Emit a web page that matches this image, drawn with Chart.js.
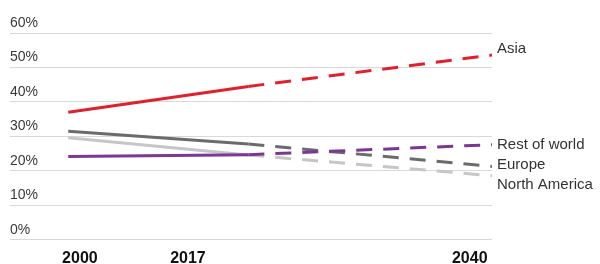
<!DOCTYPE html>
<html>
<head>
<meta charset="utf-8">
<script src="https://cdn.jsdelivr.net/npm/chart.js@4"></script>
<style>
  html, body { margin: 0; padding: 0; background: #fff; }
  #wrap { width: 600px; height: 264px; }
</style>
</head>
<body>
<div id="wrap"><canvas id="lineChart" width="600" height="264"></canvas></div>
<script>
// years of the data points (2017 = last actual, after that projection)
const years = [2000, 2017, 2040];
const splitYear = 2017;

// share in %
const asia = [37.0, 44.5, 53.6];
const restOfWorld = [24.2, 24.7, 27.6];
const europe = [31.5, 27.8, 21.3];
const northAmerica = [29.6, 24.6, 18.6];

const seriesNames = ['Asia', 'Rest of world', 'Europe', 'North America'];
const xTickLabels = ['2000', '2017', '2040'];
const yTicks = [0, 10, 20, 30, 40, 50, 60];

const colors = ['#e2202c', '#7d3694', '#6b6b6b', '#c6c6c6'];
const FONT = '"Liberation Sans", Arial, sans-serif';

function toPoints(values) {
  return values.map((v, i) => ({ x: years[i], y: v }));
}

// end labels on the right
const labelNudge = [-6, 0, -2, 9];
const endLabels = {
  id: 'endLabels',
  afterDatasetsDraw(chart) {
    const ctx = chart.ctx;
    ctx.save();
    ctx.font = '15px ' + FONT;
    ctx.fillStyle = '#333';
    ctx.textAlign = 'left';
    ctx.textBaseline = 'middle';
    chart.data.datasets.forEach((ds, i) => {
      const pts = chart.getDatasetMeta(i).data;
      const last = pts[pts.length - 1];
      ctx.fillText(ds.label, last.x + 5, last.y + labelNudge[i]);
    });
    ctx.restore();
  }
};

const allSeries = [asia, restOfWorld, europe, northAmerica];

const ctx = document.getElementById('lineChart').getContext('2d');
new Chart(ctx, {
  type: 'line',
  data: {
    datasets: allSeries.map((vals, i) => ({
      label: seriesNames[i],
      data: toPoints(vals),
      borderColor: colors[i],
      borderWidth: 3,
      pointRadius: 0,
      tension: 0,
      fill: false,
      segment: {
        borderDash: (c) => (c.p0.parsed.x >= splitYear ? [16, 11] : undefined)
      }
    }))
  },
  options: {
    responsive: false,
    animation: false,
    layout: { padding: { left: 10, right: 108, top: 33, bottom: -13 } },
    plugins: {
      legend: { display: false },
      tooltip: { enabled: false }
    },
    scales: {
      x: {
        type: 'linear',
        min: 1994.5,
        max: 2040,
        grid: { display: false, drawTicks: false },
        border: { display: false },
        // label spots as in the original (not exactly on the years)
        afterBuildTicks: (scale) => {
          scale.ticks = [2001.1, 2011.3, 2037.9].map((v) => ({ value: v }));
        },
        ticks: {
          autoSkip: false,
          maxRotation: 0,
          padding: 9,
          color: '#111',
          font: { family: FONT, size: 16, weight: 'bold' },
          callback: (v, i) => xTickLabels[i]
        }
      },
      y: {
        min: 0,
        max: 60,
        afterBuildTicks: (scale) => {
          scale.ticks = yTicks.map((v) => ({ value: v }));
        },
        grid: { color: '#d8d8d8', lineWidth: 1, drawTicks: false },
        border: { display: false },
        ticks: {
          mirror: true,
          padding: 0,
          labelOffset: -10,
          color: '#3a3a3a',
          font: { family: FONT, size: 14 },
          callback: (v) => v + '%'
        }
      }
    }
  },
  plugins: [endLabels]
});
</script>
</body>
</html>
